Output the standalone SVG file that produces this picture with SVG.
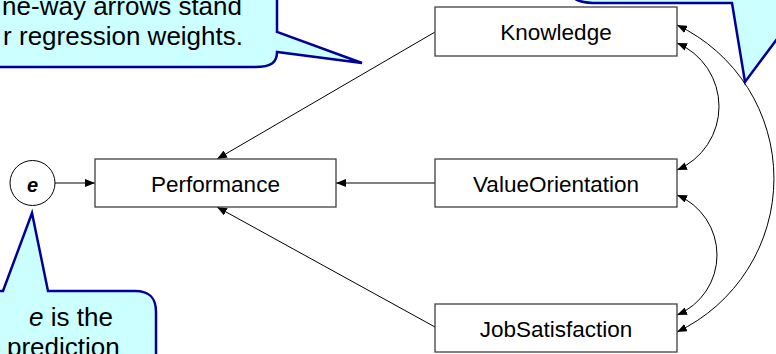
<svg xmlns="http://www.w3.org/2000/svg" width="776" height="354" viewBox="0 0 776 354">
  <style>
    .box { fill: #ffffff; stroke: #404040; stroke-width: 1.3; }
    .lbl { font-family: "Liberation Sans", Arial, sans-serif; font-size: 22.5px; fill: #000000; text-anchor: middle; }
    .edge { fill: none; stroke: #000000; stroke-width: 1; }
    .callout { fill: #ccffff; stroke: #000099; stroke-width: 2.5; stroke-linejoin: miter; }
    .note { font-family: "Liberation Sans", Arial, sans-serif; font-size: 26px; fill: #000000; }
  </style>
  <defs>
    <marker id="head" viewBox="0 0 10 8" refX="10" refY="4" markerWidth="10" markerHeight="8" markerUnits="userSpaceOnUse" orient="auto-start-reverse">
      <path d="M0,0 L10,4 L0,8 Z" fill="#000000"/>
    </marker>
  </defs>

  <!-- one-way (regression) paths -->
  <g id="connectors">
    <line class="edge" x1="55" y1="183" x2="95" y2="183" marker-end="url(#head)"/>
    <line class="edge" x1="435" y1="183" x2="336" y2="183" marker-end="url(#head)"/>
    <line class="edge" x1="435" y1="32" x2="217" y2="159" marker-end="url(#head)"/>
    <line class="edge" x1="435" y1="327" x2="217" y2="207" marker-end="url(#head)"/>
    <!-- two-way covariance arcs -->
    <path class="edge" d="M677,25 A170,170 0 0 1 677,332" marker-start="url(#head)" marker-end="url(#head)"/>
    <path class="edge" d="M677,43 A69,69 0 0 1 677,170" marker-start="url(#head)" marker-end="url(#head)"/>
    <path class="edge" d="M677,195 A65,65 0 0 1 677,315" marker-start="url(#head)" marker-end="url(#head)"/>
  </g>

  <g id="e">
    <circle cx="32.5" cy="183" r="22.5" fill="#ffffff" stroke="#000000" stroke-width="1"/>
    <text x="32.5" y="192" font-family="Liberation Sans, Arial, sans-serif" font-size="20" font-weight="bold" font-style="italic" text-anchor="middle">e</text>
  </g>
  <g id="performance">
    <rect class="box" x="95" y="159" width="241" height="48"/>
    <text class="lbl" x="215.5" y="191.5">Performance</text>
  </g>
  <g id="knowledge">
    <rect class="box" x="435" y="7" width="242" height="49"/>
    <text class="lbl" x="556" y="40">Knowledge</text>
  </g>
  <g id="valueorientation">
    <rect class="box" x="435" y="159" width="242" height="48"/>
    <text class="lbl" x="556" y="191.5">ValueOrientation</text>
  </g>
  <g id="jobsatisfaction">
    <rect class="box" x="435" y="304" width="242" height="48"/>
    <text class="lbl" x="556" y="336.5">JobSatisfaction</text>
  </g>

  <!-- speech-bubble notes -->
  <g id="note-oneway">
    <path class="callout" d="M-10,-10 L277,-10 L277,32 L362,63 L277,52 C277,62 272,67 255,67 L-10,67 Z"/>
    <text class="note" x="242" y="15" text-anchor="end">ne-way arrows stand</text>
    <text class="note" x="243" y="45" text-anchor="end">r regression weights.</text>
  </g>
  <g id="note-twoway">
    <path class="callout" d="M568,-10 C572,0 580,3 598,3 L732,3 L745,82 L800,8 L800,-10 Z"/>
  </g>
  <g id="note-e">
    <path class="callout" d="M-10,291 L3,291 L32,213 L48,291 L135,291 C150,291 156,298 156,312 L156,370 L-10,370 Z"/>
    <text class="note" x="29" y="326"><tspan font-style="italic">e</tspan> is the</text>
    <text class="note" x="7" y="356">prediction</text>
  </g>
</svg>
